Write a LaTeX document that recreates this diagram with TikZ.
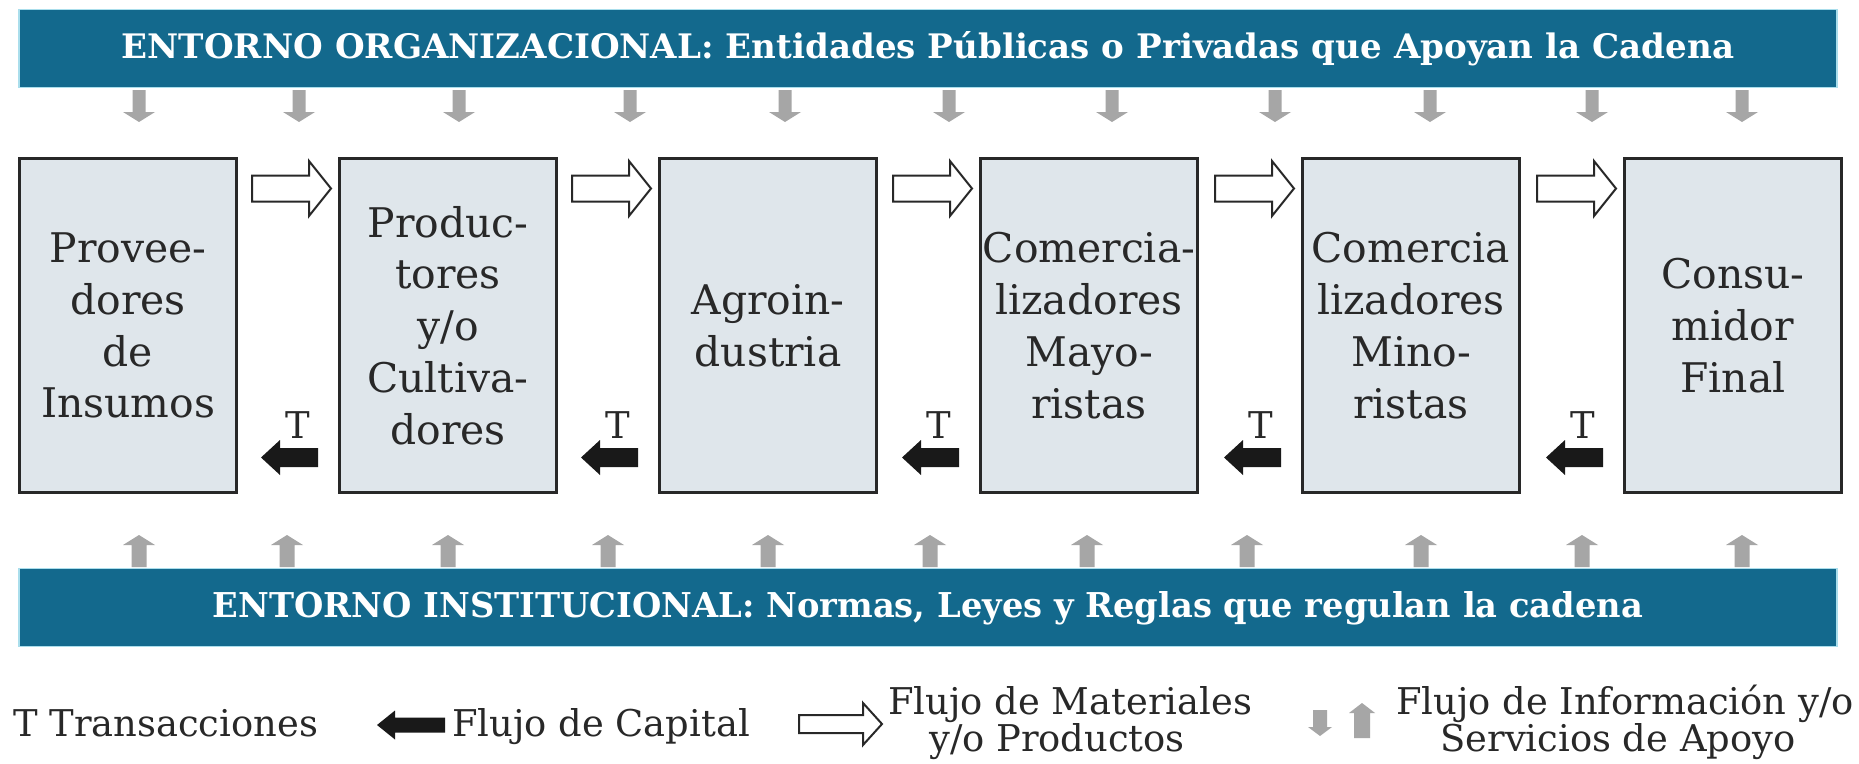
\documentclass[tikz,border=0pt]{standalone}
\usepackage{fontspec}
\setmainfont{DejaVu Serif}
\usepackage{graphicx}
\usetikzlibrary{calc}
\definecolor{bannerblue}{RGB}{19,105,141}
\definecolor{banneredge}{RGB}{170,222,236}
\definecolor{boxfill}{RGB}{223,230,235}
\definecolor{graya}{RGB}{166,166,166}
\definecolor{inkc}{RGB}{40,40,40}
\tikzset{
  banner/.style={fill=bannerblue, draw=banneredge, line width=1.5bp, minimum width=1818bp, minimum height=78bp, anchor=north west, inner sep=0pt, outer sep=0pt},
  bannertext/.style={text=white, inner sep=0pt, anchor=base, font=\bfseries},
  stage/.style={draw=inkc, line width=3bp, fill=boxfill, minimum width=217bp, minimum height=334bp, anchor=north west, inner sep=0pt, outer sep=0pt, align=center, text=inkc, font=\fontsize{41}{52}\selectfont},
  tlabel/.style={anchor=base, inner sep=0pt, text=inkc, font=\fontsize{37}{40}\selectfont},
  legend/.style={inner sep=0pt, text=inkc, font=\fontsize{37}{38}\selectfont},
  matarrow/.pic={\draw[line width=2bp, draw=inkc, fill=white, line join=miter]
     (-39.5,-13) -- (17.5,-13) -- (17.5,-27.5) -- (39.5,0) -- (17.5,27.5) -- (17.5,13) -- (-39.5,13) -- cycle;},
  caparrow/.pic={\fill[black!90]
     (28.5,-9.5) -- (-9.5,-9.5) -- (-9.5,-17.5) -- (-28.5,0) -- (-9.5,17.5) -- (-9.5,9.5) -- (28.5,9.5) -- cycle;},
  matarrowsmall/.pic={\draw[line width=2bp, draw=inkc, fill=white, line join=miter]
     (-41.5,-9) -- (22.5,-9) -- (22.5,-21) -- (41.5,0) -- (22.5,21) -- (22.5,9) -- (-41.5,9) -- cycle;},
  caparrowsmall/.pic={\fill[black!90]
     (34,-7.5) -- (-16,-7.5) -- (-16,-14.5) -- (-34,0) -- (-16,14.5) -- (-16,7.5) -- (34,7.5) -- cycle;},
  graydown/.pic={\fill[graya] (-6.5,-32) -- (6.5,-32) -- (6.5,-10) -- (16,-10) -- (0,0) -- (-16,-10) -- (-6.5,-10) -- cycle;},
  grayup/.pic={\fill[graya] (0,0) -- (16,10) -- (7.5,10) -- (7.5,32) -- (-7.5,32) -- (-7.5,10) -- (-16,10) -- cycle;},
  graydownsmall/.pic={\fill[graya] (-7,-26) -- (7,-26) -- (7,-9) -- (12,-9) -- (0,0) -- (-12,-9) -- (-7,-9) -- cycle;},
  grayupsmall/.pic={\fill[graya] (0,0) -- (13,10) -- (8,10) -- (8,35) -- (-8,35) -- (-8,10) -- (-13,10) -- cycle;}
}
\begin{document}
\begin{tikzpicture}[x=1bp,y=-1bp]
\useasboundingbox (0,0) rectangle (1859,764);
\fill[white] (0,0) rectangle (1859,764);

% banners
\node[banner] (org) at (19,9.5) {};
\node[bannertext] (orgtext) at ($(org.center)+(0,10)$)
  {\resizebox{1612bp}{27bp}{ENTORNO ORGANIZACIONAL: Entidades Públicas o Privadas que Apoyan la Cadena}};
\node[banner] (inst) at (19,568.5) {};
\node[bannertext] (insttext) at ($(inst.center)+(0,10)$)
  {\resizebox{1430bp}{26bp}{ENTORNO INSTITUCIONAL: Normas, Leyes y Reglas que regulan la cadena}};

% gray support arrows
\foreach \x in {139,299,459,630,785,949,1112,1275,1430,1592,1742}
  \pic at (\x,122) {graydown};
\foreach \x in {139,287,448,608,768,930,1087,1247,1421,1582,1742}
  \pic at (\x,535) {grayup};

% stages
\node[stage] (b1) at (19.5,158.5) {Provee-\\dores\\de\\Insumos};
\node[stage] (b2) at (339.5,158.5) {Produc-\\tores\\y/o\\Cultiva-\\dores};
\node[stage] (b3) at (659.5,158.5) {Agroin-\\dustria};
\node[stage] (b4) at (980.5,158.5) {Comercia-\\lizadores\\Mayo-\\ristas};
\node[stage] (b5) at (1302.5,158.5) {Comercia\\lizadores\\Mino-\\ristas};
\node[stage] (b6) at (1624.5,158.5) {Consu-\\midor\\Final};

% flows between stages
\foreach \n [count=\i] in {b2,b3,b4,b5,b6}{
  \pic at ($(\n.north west)+(-48,30)$) {matarrow};
  \pic at ($(\n.south west)+(-50,-35)$) {caparrow};
  \node[tlabel] (t\i) at ($(\n.south west)+(-41.5,-54)$) {T};
}

% legend
\node[legend, anchor=base west] (lt) at (13,736) {T Transacciones};
\pic at (411,725) {caparrowsmall};
\node[legend, anchor=base west] (lc) at (452,736) {Flujo de Capital};
\pic at (840.5,724) {matarrowsmall};
\node[legend, anchor=base] (lm1) at (1070,714) {Flujo de Materiales};
\node[legend, anchor=base] (lm2) at (1057,751) {y/o Productos};
\pic at (1320,736) {graydownsmall};
\pic at (1362,703) {grayupsmall};
\node[legend, anchor=base] (li1) at (1625,714) {Flujo de Información y/o};
\node[legend, anchor=base] (li2) at (1618,751) {Servicios de Apoyo};
\end{tikzpicture}
\end{document}
